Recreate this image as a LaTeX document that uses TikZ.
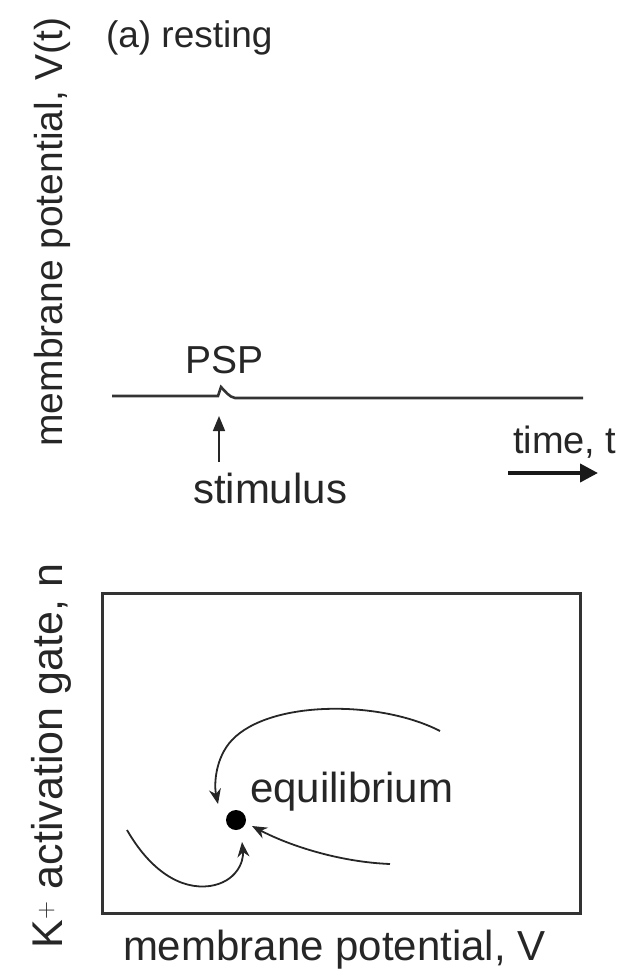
\documentclass[tikz,border=0pt]{standalone}
\usepackage{fontspec}
\setmainfont{Liberation Sans}
\usetikzlibrary{arrows.meta}
\newcommand{\fs}[1]{\fontsize{#1}{#1}\selectfont}
\begin{document}
\begin{tikzpicture}[x=1pt,y=-1pt,
  lbl/.style={inner sep=0pt,outer sep=0pt,text=black!85},
  trace/.style={line width=2.6pt,draw=black!80},
  flow/.style={line width=1.8pt,draw=black!85,-{Stealth[length=15pt,width=12pt]}},
]
\useasboundingbox (0,0) rectangle (624,972);
% top panel
\node[lbl,anchor=base west,font=\fs{37}] (title) at (106,47) {(a) resting};
\node[lbl,anchor=base,rotate=90,font=\fs{39}] (vlab) at (62,232) {membrane potential, V(t)};
\coordinate (tl) at (112,396);
\coordinate (tr) at (583,398);
\draw[trace] (tl) -- (218,396) -- (221,387) .. controls (225,391) and (229,397) .. (235,398) -- (tr);
\node[lbl,anchor=base west,font=\fs{39}] (psp) at (185,373) {PSP};
\node[lbl,anchor=base west,font=\fs{42}] (stim) at (193,503) {stimulus};
\coordinate (stimtip) at (219,416);
\draw[line width=1.6pt,draw=black!85,-{Triangle[length=15pt,width=12pt]}] (219,462) -- (stimtip);
\node[lbl,anchor=base west,font=\fs{38}] (time) at (513,453) {time, t};
\coordinate (ta) at (508,473);
\coordinate (tb) at (598,473);
\draw[line width=4pt,draw=black!90,-{Triangle[length=18pt,width=18pt]}] (ta) -- (tb);
% bottom panel
\node[lbl,anchor=base,rotate=90,font=\fs{43}] (nlab) at (62,756) {K$^{+}$ activation gate, n};
\node[draw=black!80,line width=3pt,inner sep=0pt,minimum width=478pt,minimum height=320pt,anchor=north west] (box) at (101,592) {};
\node[lbl,anchor=base west,font=\fs{42}] (vlab2) at (123,960) {membrane potential, V};
\node[circle,fill=black,inner sep=0pt,minimum size=20pt] (eq) at (236,820) {};
\node[lbl,anchor=base west,font=\fs{42}] (eqlab) at (250,802) {equilibrium};
\coordinate (c1s) at (440,731);
\coordinate (c2s) at (127,830);
\coordinate (c3s) at (390,864);
\draw[flow] (c1s) .. controls (380,700) and (270,700) .. (232,740) .. controls (215,758) and (214,785) .. (218,804);
\draw[flow] (c2s) .. controls (150,870) and (180,890) .. (210,886) .. controls (236,882) and (244,862) .. (242,842);
\draw[flow] (c3s) .. controls (340,862) and (290,846) .. (252,826);
\end{tikzpicture}
\end{document}
